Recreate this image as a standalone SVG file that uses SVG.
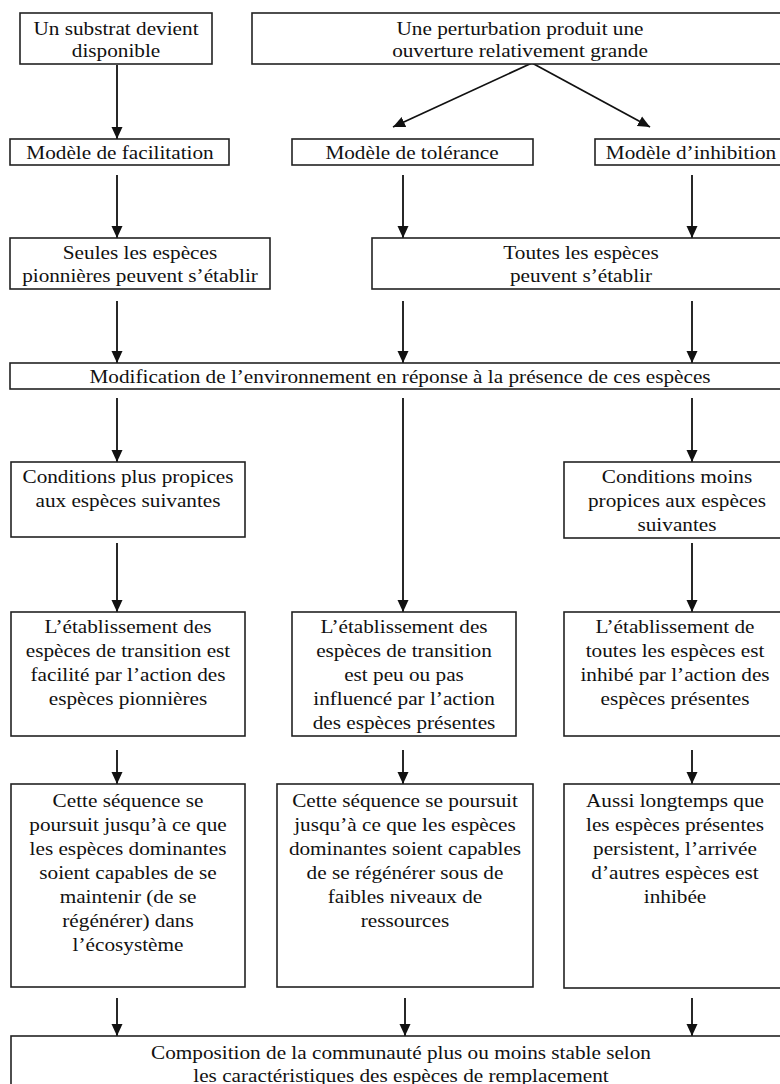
<svg xmlns="http://www.w3.org/2000/svg" width="780" height="1084" viewBox="0 0 780 1084">
<defs>
<style>
.box{fill:#fff;stroke:#222;stroke-width:1.6}
.t{font-family:"Liberation Serif","Times New Roman",serif;font-size:18px;text-anchor:middle;fill:#111}
.c{stroke:#111;stroke-width:1.8;fill:none;marker-end:url(#ah)}
</style>
<marker id="ah" markerUnits="userSpaceOnUse" markerWidth="12" markerHeight="14" viewBox="0 0 12 14" refX="12" refY="7" orient="auto">
<path d="M0,1.5 L12,7 L0,12.5 Z" fill="#111"/>
</marker>
</defs>
<rect width="780" height="1084" fill="#fff"/>

<g id="connectors">
<line class="c" x1="117" y1="65" x2="117" y2="139"/>
<line class="c" x1="532" y1="63" x2="393" y2="127"/>
<line class="c" x1="532" y1="63" x2="650" y2="127"/>
<line class="c" x1="117" y1="175" x2="117" y2="238"/>
<line class="c" x1="403" y1="175" x2="403" y2="238"/>
<line class="c" x1="692" y1="175" x2="692" y2="238"/>
<line class="c" x1="117" y1="301" x2="117" y2="363"/>
<line class="c" x1="403" y1="301" x2="403" y2="363"/>
<line class="c" x1="692" y1="301" x2="692" y2="363"/>
<line class="c" x1="117" y1="398" x2="117" y2="462"/>
<line class="c" x1="403" y1="398" x2="403" y2="612"/>
<line class="c" x1="692" y1="398" x2="692" y2="462"/>
<line class="c" x1="117" y1="543" x2="117" y2="612"/>
<line class="c" x1="692" y1="543" x2="692" y2="612"/>
<line class="c" x1="117" y1="750" x2="117" y2="784"/>
<line class="c" x1="403" y1="750" x2="403" y2="784"/>
<line class="c" x1="692" y1="750" x2="692" y2="784"/>
<line class="c" x1="117" y1="998" x2="117" y2="1036"/>
<line class="c" x1="405" y1="998" x2="405" y2="1036"/>
<line class="c" x1="692" y1="998" x2="692" y2="1036"/>
</g>

<g id="n-substrat">
<rect class="box" x="20" y="13" width="192" height="51"/>
<text class="t" transform="matrix(1.18 0 0 1 116 0)"><tspan x="0" y="35">Un substrat devient</tspan><tspan x="0" y="57">disponible</tspan></text>
</g>
<g id="n-perturbation">
<rect class="box" x="252" y="13" width="540" height="51"/>
<text class="t" transform="matrix(1.18 0 0 1 520 0)"><tspan x="0" y="35">Une perturbation produit une</tspan><tspan x="0" y="57">ouverture relativement grande</tspan></text>
</g>
<g id="n-facilitation">
<rect class="box" x="10" y="139" width="219" height="26"/>
<text class="t" transform="matrix(1.18 0 0 1 120 0)"><tspan x="0" y="159">Modèle de facilitation</tspan></text>
</g>
<g id="n-tolerance">
<rect class="box" x="292" y="139" width="241" height="26"/>
<text class="t" transform="matrix(1.18 0 0 1 412 0)"><tspan x="0" y="159">Modèle de tolérance</tspan></text>
</g>
<g id="n-inhibition">
<rect class="box" x="595" y="139" width="195" height="26"/>
<text class="t" transform="matrix(1.18 0 0 1 691 0)"><tspan x="0" y="159">Modèle d’inhibition</tspan></text>
</g>
<g id="n-seules">
<rect class="box" x="10" y="238" width="260" height="51"/>
<text class="t" transform="matrix(1.18 0 0 1 140 0)"><tspan x="0" y="259">Seules les espèces</tspan><tspan x="0" y="282">pionnières peuvent s’établir</tspan></text>
</g>
<g id="n-toutes">
<rect class="box" x="372" y="238" width="420" height="51"/>
<text class="t" transform="matrix(1.18 0 0 1 581 0)"><tspan x="0" y="259">Toutes les espèces</tspan><tspan x="0" y="282">peuvent s’établir</tspan></text>
</g>
<g id="n-modification">
<rect class="box" x="10" y="363" width="782" height="26"/>
<text class="t" transform="matrix(1.18 0 0 1 400 0)"><tspan x="0" y="383">Modification de l’environnement en réponse à la présence de ces espèces</tspan></text>
</g>
<g id="n-plus">
<rect class="box" x="11" y="462" width="234" height="75"/>
<text class="t" transform="matrix(1.18 0 0 1 128 0)"><tspan x="0" y="483">Conditions plus propices</tspan><tspan x="0" y="507">aux espèces suivantes</tspan></text>
</g>
<g id="n-moins">
<rect class="box" x="564" y="462" width="228" height="76"/>
<text class="t" transform="matrix(1.18 0 0 1 677 0)"><tspan x="0" y="483">Conditions moins</tspan><tspan x="0" y="507">propices aux espèces</tspan><tspan x="0" y="531">suivantes</tspan></text>
</g>
<g id="n-etab-facil">
<rect class="box" x="11" y="612" width="234" height="124"/>
<text class="t" transform="matrix(1.18 0 0 1 128 0)"><tspan x="0" y="633">L’établissement des</tspan><tspan x="0" y="657">espèces de transition est</tspan><tspan x="0" y="681">facilité par l’action des</tspan><tspan x="0" y="705">espèces pionnières</tspan></text>
</g>
<g id="n-etab-toler">
<rect class="box" x="292" y="612" width="224" height="124"/>
<text class="t" transform="matrix(1.18 0 0 1 404 0)"><tspan x="0" y="633">L’établissement des</tspan><tspan x="0" y="657">espèces de transition</tspan><tspan x="0" y="681">est peu ou pas</tspan><tspan x="0" y="705">influencé par l’action</tspan><tspan x="0" y="729">des espèces présentes</tspan></text>
</g>
<g id="n-etab-inhib">
<rect class="box" x="564" y="612" width="228" height="124"/>
<text class="t" transform="matrix(1.18 0 0 1 675 0)"><tspan x="0" y="633">L’établissement de</tspan><tspan x="0" y="657">toutes les espèces est</tspan><tspan x="0" y="681">inhibé par l’action des</tspan><tspan x="0" y="705">espèces présentes</tspan></text>
</g>
<g id="n-seq-facil">
<rect class="box" x="11" y="784" width="234" height="203"/>
<text class="t" transform="matrix(1.18 0 0 1 128 0)"><tspan x="0" y="807">Cette séquence se</tspan><tspan x="0" y="831">poursuit jusqu’à ce que</tspan><tspan x="0" y="855">les espèces dominantes</tspan><tspan x="0" y="879">soient capables de se</tspan><tspan x="0" y="903">maintenir (de se</tspan><tspan x="0" y="927">régénérer) dans</tspan><tspan x="0" y="951">l’écosystème</tspan></text>
</g>
<g id="n-seq-toler">
<rect class="box" x="277" y="784" width="256" height="203"/>
<text class="t" transform="matrix(1.18 0 0 1 405 0)"><tspan x="0" y="807">Cette séquence se poursuit</tspan><tspan x="0" y="831">jusqu’à ce que les espèces</tspan><tspan x="0" y="855">dominantes soient capables</tspan><tspan x="0" y="879">de se régénérer sous de</tspan><tspan x="0" y="903">faibles niveaux de</tspan><tspan x="0" y="927">ressources</tspan></text>
</g>
<g id="n-seq-inhib">
<rect class="box" x="564" y="784" width="228" height="204"/>
<text class="t" transform="matrix(1.18 0 0 1 675 0)"><tspan x="0" y="807">Aussi longtemps que</tspan><tspan x="0" y="831">les espèces présentes</tspan><tspan x="0" y="855">persistent, l’arrivée</tspan><tspan x="0" y="879">d’autres espèces est</tspan><tspan x="0" y="903">inhibée</tspan></text>
</g>
<g id="n-composition">
<rect class="box" x="11" y="1036" width="781" height="60"/>
<text class="t" transform="matrix(1.18 0 0 1 401 0)"><tspan x="0" y="1059">Composition de la communauté plus ou moins stable selon</tspan><tspan x="0" y="1082">les caractéristiques des espèces de remplacement</tspan></text>
</g>
</svg>
